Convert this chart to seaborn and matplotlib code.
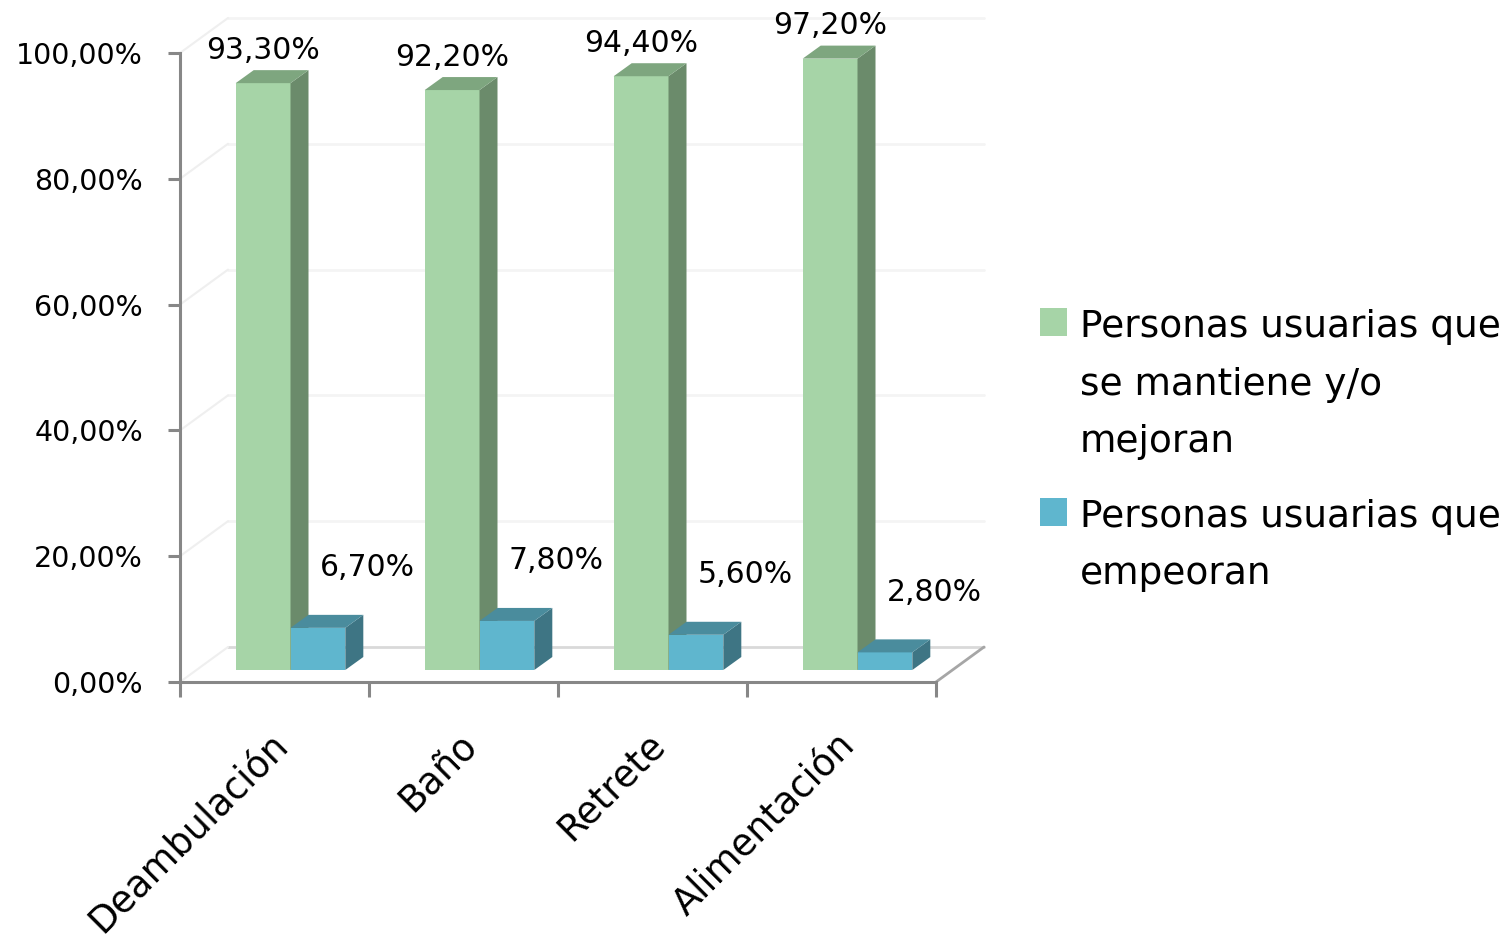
import matplotlib
matplotlib.use("Agg")
import matplotlib.pyplot as plt
from matplotlib.patches import Polygon, Rectangle
from matplotlib.lines import Line2D
from matplotlib.transforms import IdentityTransform, ScaledTranslation
import pandas as pd
import seaborn as sns

# --- data -------------------------------------------------------------------
categorias = ["Deambulación", "Baño", "Retrete", "Alimentación"]
series = [
    "Personas usuarias que se mantiene y/o mejoran",
    "Personas usuarias que empeoran",
]
series_lineas = [
    ["Personas usuarias que", "se mantiene y/o", "mejoran"],
    ["Personas usuarias que", "empeoran"],
]
mantiene_mejora = [93.3, 92.2, 94.4, 97.2]
empeoran = [6.7, 7.8, 5.6, 2.8]
ticks_y = [0, 20, 40, 60, 80, 100]

# --- styling ----------------------------------------------------------------
colores_frente = ["#A6D4A7", "#5FB6CE"]
colores_lado = ["#6B8B6B", "#3E7584"]
colores_techo = ["#7EA67F", "#4A8C9D"]
gris_eje = "#878787"

DPI = 100
FRENTE = (16, 12)      # front face of the bars, pushed into the scene (px)
FONDO = (18, 13)       # depth of each bar (px)
PARED = (48, 35)       # depth of the floor / back wall (px)


def pct(v):
    return f"{v:.2f}%".replace(".", ",")


df = pd.DataFrame({
    "categoria": categorias * 2,
    "serie": [series[0]] * len(categorias) + [series[1]] * len(categorias),
    "valor": mantiene_mejora + empeoran,
})

sns.set_style("white")
plt.rcParams["font.family"] = ["DejaVu Sans"]

fig = plt.figure(figsize=(15.12, 9.38), dpi=DPI)
W, H = 1512, 938
ax = fig.add_axes([180 / W, 1 - 682 / H, 756 / W, 629 / H])

sns.barplot(
    data=df, x="categoria", y="valor", hue="serie",
    order=categorias, hue_order=series, palette=colores_frente,
    width=0.58, saturation=1, errorbar=None, legend=False,
    linewidth=0, ax=ax,
)
ax.set_xlim(-0.5, len(categorias) - 0.5)
ax.set_ylim(0, 100)
ax.set_xlabel("")
ax.set_ylabel("")


def disp(x, y, dx=0.0, dy=0.0):
    px, py = ax.transData.transform((x, y))
    return (px + dx, py + dy)


ident = IdentityTransform()
x_izq, x_der = ax.get_xlim()

# back wall, left wall and floor outlines
for t in ticks_y:
    c = "#D9D9D9" if t == 0 else "#F4F4F4"
    p1 = disp(x_izq, t, *PARED)
    p2 = disp(x_der, t, *PARED)
    ax.add_artist(Line2D([p1[0], p2[0]], [p1[1], p2[1]], color=c, lw=2,
                         transform=ident, zorder=0.5, clip_on=False))
    q1 = disp(x_izq, t)
    ax.add_artist(Line2D([q1[0], p1[0]], [q1[1], p1[1]], color="#EFEFEF",
                         lw=1.5, transform=ident, zorder=0.5, clip_on=False))
r1 = disp(x_der, 0)
r2 = disp(x_der, 0, *PARED)
ax.add_artist(Line2D([r1[0], r2[0]], [r1[1], r2[1]], color="#A6A6A6", lw=2,
                     transform=ident, zorder=0.6, clip_on=False))

# 3-D faces of the bars
desplaza = ScaledTranslation(FRENTE[0] / DPI, FRENTE[1] / DPI, fig.dpi_scale_trans)
fondo_total = (FRENTE[0] + FONDO[0], FRENTE[1] + FONDO[1])
for j, cont in enumerate(ax.containers):
    for bar in cont:
        x0, w, h = bar.get_x(), bar.get_width(), bar.get_height()
        bar.set_transform(ax.transData + desplaza)
        bar.set_zorder(3 + j)
        bar.set_clip_on(False)
        lado = [disp(x0 + w, 0, *FRENTE), disp(x0 + w, h, *FRENTE),
                disp(x0 + w, h, *fondo_total), disp(x0 + w, 0, *fondo_total)]
        techo = [disp(x0, h, *FRENTE), disp(x0 + w, h, *FRENTE),
                 disp(x0 + w, h, *fondo_total), disp(x0, h, *fondo_total)]
        ax.add_artist(Polygon(lado, closed=True, facecolor=colores_lado[j],
                              edgecolor="none", transform=ident,
                              zorder=3 + j + 0.01, clip_on=False))
        ax.add_artist(Polygon(techo, closed=True, facecolor=colores_techo[j],
                              edgecolor="none", transform=ident,
                              zorder=3 + j + 0.02, clip_on=False))

# value labels
for bar, v in zip(ax.containers[0], mantiene_mejora):
    ax.annotate(pct(v), xy=(bar.get_x() + bar.get_width() / 2, v),
                xytext=(FRENTE[0], FRENTE[1] + 33), textcoords="offset pixels",
                ha="center", va="center", fontsize=21.5, color="black",
                zorder=10, annotation_clip=False)
for bar, v in zip(ax.containers[1], empeoran):
    ax.annotate(pct(v), xy=(bar.get_x() + bar.get_width() / 2, v),
                xytext=(65, 72), textcoords="offset pixels",
                ha="center", va="center", fontsize=21.5, color="black",
                zorder=10, annotation_clip=False)

# axes, ticks and labels
sns.despine(ax=ax, top=True, right=True)
for s in ("left", "bottom"):
    ax.spines[s].set_color(gris_eje)
    ax.spines[s].set_linewidth(2.2)
ax.set_yticks(ticks_y, labels=[pct(t) for t in ticks_y])
ax.tick_params(axis="y", left=True, length=8.5, width=2.2, color=gris_eje,
               pad=18, labelsize=20.5, labelcolor="black", direction="out")
ax.set_xticks([i - 0.5 for i in range(len(categorias) + 1)], labels=[])
ax.tick_params(axis="x", bottom=True, length=11, width=2.2, color=gris_eje,
               direction="out")
for i, cat in enumerate(categorias):
    ax.annotate(cat, xy=(i, 0), xycoords=("data", "axes fraction"),
                xytext=(-6, -44), textcoords="offset pixels",
                rotation=45, rotation_mode="anchor", ha="right", va="top",
                fontsize=26.5, color="black", annotation_clip=False)
ax.grid(False)

# legend
base = [337, 527]
paso = 57.5
for j, lineas in enumerate(series_lineas):
    b = base[j]
    fig.add_artist(Rectangle((1040 / W, 1 - (b - 1) / H), 27 / W, 28 / H,
                             transform=fig.transFigure,
                             facecolor=colores_frente[j], edgecolor="none"))
    for k, linea in enumerate(lineas):
        fig.text(1080 / W, 1 - (b + k * paso) / H, linea, fontsize=27,
                 ha="left", va="baseline", color="black")

fig.savefig("out.png", dpi=DPI, facecolor="white")
